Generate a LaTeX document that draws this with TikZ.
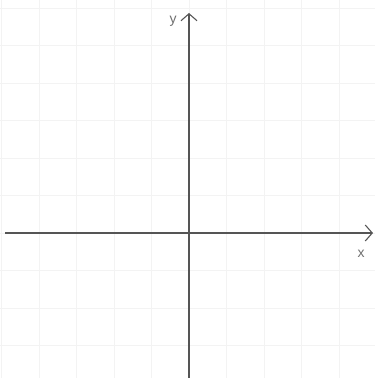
\documentclass[tikz,border=0pt]{standalone}
\usepackage{fontspec}
\setmainfont{Liberation Sans}
\usetikzlibrary{arrows.meta}
\definecolor{gridc}{HTML}{F3F3F3}
\definecolor{axisc}{HTML}{555555}
\definecolor{labc}{HTML}{707070}
\begin{document}
\begin{tikzpicture}[x=1pt,y=-1pt,
  gridline/.style={draw=gridc,line width=0.8pt},
  axisline/.style={draw=axisc,line width=1.1pt,-{Straight Barb[length=7pt,width=16pt,line width=1.1pt]}},
  axlabel/.style={text=labc,font=\fontsize{14}{14}\selectfont,inner sep=0pt}]
\useasboundingbox (0,0) rectangle (375,378);
\fill[white] (0,0) rectangle (375,378);
\foreach \i in {-5,...,5} {\draw[gridline] ({189+37.5*\i},0) -- ({189+37.5*\i},378);}
\foreach \j in {-6,...,4} {\draw[gridline] (0,{233+37.5*\j}) -- (375,{233+37.5*\j});}
\coordinate (xs) at (5,233);
\coordinate (xe) at (373,233);
\coordinate (ys) at (189,378);
\coordinate (ye) at (189,13);
\draw[axisline] (xs) -- (xe);
\draw[axisline] (ys) -- (ye);
\node[axlabel] (xl) at (361,254) {x};
\node[axlabel] (yl) at (173,21) {y};
\end{tikzpicture}
\end{document}
